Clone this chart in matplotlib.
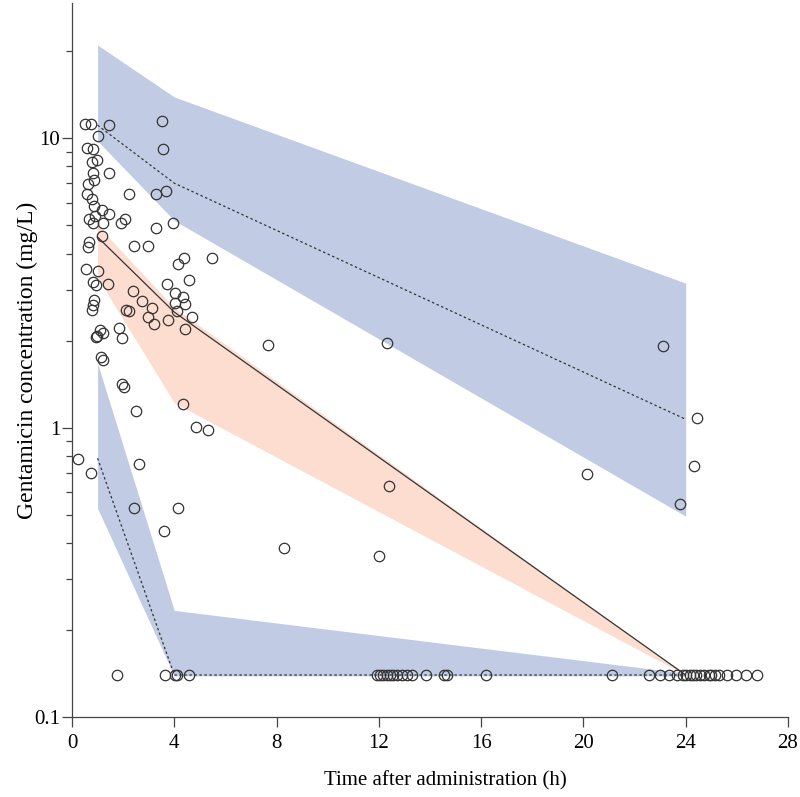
import numpy as np
import matplotlib
matplotlib.use("Agg")
import matplotlib.pyplot as plt
import matplotlib.ticker as ticker

plt.rcParams['font.family'] = ['Liberation Serif', 'DejaVu Serif']

# Observaciones (tiempo h, concentración mg/L)
obs_t = [0.51, 0.73, 1.46, 3.51, 1.03, 0.57, 0.83, 3.57, 0.77, 0.97,
         0.83, 1.46, 0.64, 0.87, 0.57, 0.77, 2.24, 3.29, 3.68, 0.86,
         1.16, 1.45, 0.90, 0.68, 0.83, 1.20, 2.07, 1.92, 3.94, 3.27,
         1.16, 0.68, 0.61, 2.42, 2.98, 4.38, 4.13, 5.46, 0.54, 1.03,
         0.83, 0.94, 1.40, 3.70, 4.56, 2.37, 4.01, 4.33, 2.75, 4.03,
         4.42, 0.86, 0.83, 0.79, 3.13, 2.11, 2.24, 4.12, 4.68, 2.98,
         3.20, 3.77, 4.42, 1.10, 1.22, 0.97, 0.92, 1.85, 1.94, 1.12,
         1.20, 1.94, 2.05, 2.50, 4.35, 4.84, 5.33, 0.25, 0.74, 2.62,
         2.42, 4.16, 3.60, 8.29, 7.68, 12.32, 12.40, 12.00, 23.11, 24.44,
         24.33, 23.78, 20.14]
obs_c = [11.24, 11.17, 11.09, 11.45, 10.18, 9.29, 9.16, 9.21, 8.28, 8.44,
         7.61, 7.59, 6.98, 7.16, 6.41, 6.19, 6.41, 6.41, 6.58, 5.82,
         5.64, 5.49, 5.38, 5.25, 5.10, 5.10, 5.28, 5.08, 5.10, 4.90,
         4.61, 4.38, 4.21, 4.25, 4.25, 3.86, 3.69, 3.85, 3.55, 3.47,
         3.19, 3.12, 3.15, 3.14, 3.24, 2.97, 2.92, 2.82, 2.75, 2.70,
         2.67, 2.77, 2.66, 2.56, 2.60, 2.56, 2.53, 2.53, 2.41, 2.41,
         2.28, 2.35, 2.20, 2.18, 2.13, 2.07, 2.06, 2.22, 2.04, 1.76,
         1.71, 1.42, 1.38, 1.14, 1.21, 1.01, 0.98, 0.78, 0.70, 0.75,
         0.53, 0.53, 0.44, 0.385, 1.94, 1.96, 0.63, 0.36, 1.91, 1.08,
         0.74, 0.545, 0.69]

# Observaciones por debajo del límite de cuantificación
blq_t = [1.75, 3.65, 4.03, 4.09, 4.59, 11.92, 12.04, 12.16, 12.31, 12.44,
         12.55, 12.70, 12.89, 13.09, 13.29, 13.84, 14.55, 14.68, 16.19, 21.10,
         22.55, 23.00, 23.35, 23.65, 23.90, 24.00, 24.15, 24.30, 24.40, 24.55,
         24.70, 24.90, 25.00, 25.15, 25.30, 25.60, 25.95, 26.35, 26.80]
blq_c = 0.14

# Intervalos de predicción (VPC)
bin_t = [1, 4, 24]
p95_hi = [21.0, 13.9, 3.16]
p95_lo = [9.8, 5.2, 0.495]
p95_med = [11.1, 7.0, 1.07]
p50_hi = [5.0, 2.6, 0.14]
p50_lo = [3.3, 1.22, 0.14]
p50_med = [4.56, 2.51, 0.14]
p05_hi = [1.67, 0.234, 0.142]
p05_lo = [0.527, 0.139, 0.139]
p05_med = [0.785, 0.14, 0.14]

azul = '#c1cce4'
naranja = '#fcddcf'

fig = plt.figure(figsize=(8, 7.97), dpi=100)
ax = fig.add_axes([0.09, 0.1, 0.895, 0.896])

ax.fill_between(bin_t, p95_lo, p95_hi, color=azul, lw=0, zorder=1)
ax.fill_between(bin_t, p50_lo, p50_hi, color=naranja, lw=0, zorder=1)
ax.fill_between(bin_t, p05_lo, p05_hi, color=azul, lw=0, zorder=1)

ax.plot(bin_t, p95_med, color='#333333', lw=0.9, ls=(0, (2, 2)), zorder=2)
ax.plot(bin_t, p50_med, color='#333333', lw=0.9, ls='-', zorder=2)
ax.plot(bin_t, p05_med, color='#333333', lw=0.9, ls=(0, (2, 2)), zorder=2)

ax.plot(obs_t, obs_c, 'o', mfc='none', mec='#333333', ms=7.5, mew=0.9, zorder=3)
ax.plot(blq_t, [blq_c] * len(blq_t), 'o', mfc='none', mec='#333333', ms=7.5, mew=0.9, zorder=3)

ax.set_yscale('log')
ax.set_xlim(0, 28)
ax.set_ylim(0.1, 29.3)
ax.xaxis.set_major_locator(ticker.MultipleLocator(4))
ax.yaxis.set_major_locator(ticker.FixedLocator([0.1, 1, 10]))
ax.yaxis.set_major_formatter(ticker.FixedFormatter(['0.1', '1', '10']))
ax.yaxis.set_minor_locator(ticker.LogLocator(subs=np.arange(2, 10)))
ax.yaxis.set_minor_formatter(ticker.NullFormatter())

for s in ['top', 'right']:
    ax.spines[s].set_visible(False)
for s in ['left', 'bottom']:
    ax.spines[s].set_color('#444444')
    ax.spines[s].set_linewidth(0.9)

ax.tick_params(axis='both', which='major', length=7, width=0.9, color='#444444', labelsize=15)
ax.tick_params(axis='x', which='major', pad=5)
ax.tick_params(axis='y', which='major', pad=1.5)
ax.tick_params(axis='y', which='minor', length=4, width=0.9, color='#444444')

ax.set_xlabel('Time after administration (h)', fontsize=15)
ax.xaxis.set_label_coords(0.522, -0.075)
ax.set_ylabel('Gentamicin concentration (mg/L)', fontsize=17)
ax.yaxis.set_label_coords(-0.048, 0.5)

fig.savefig('out.png', dpi=100)
